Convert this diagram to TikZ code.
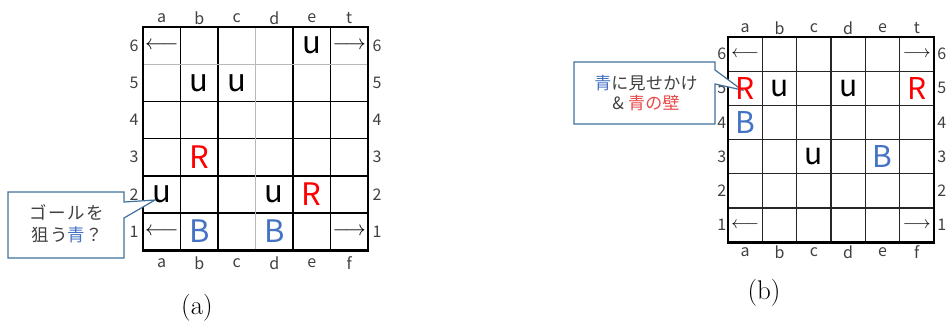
\documentclass[tikz,border=0pt]{standalone}
\usepackage{fontspec}
\newfontfamily\jp{Noto Sans CJK JP}
\newfontfamily\jpl[LetterSpace=9]{Noto Sans CJK JP}
\newfontfamily\jpm[LetterSpace=2]{Noto Sans CJK JP}
\usepackage{tikz}
\usetikzlibrary{calc}
\definecolor{bleu}{HTML}{4472C4}
\definecolor{rouge}{HTML}{FF0000}
\definecolor{rose}{HTML}{E84848}
\definecolor{cadre}{HTML}{41719C}
\definecolor{texte}{HTML}{404040}
\tikzset{
  piece/.style={font=\jp\fontsize{31}{31}\selectfont, inner sep=0pt},
  repere/.style={font=\jp\fontsize{16}{16}\selectfont, text=black!75, inner sep=0pt},
  fleche/.style={font=\fontsize{20}{20}\selectfont, inner sep=0pt},
  bulle/.style={draw=cadre, fill=white, line width=1.2pt, line join=miter},
  legende/.style={font=\jpl\fontsize{17.5}{22}\selectfont, text=texte, align=center, inner sep=0pt},
  titre/.style={font=\fontsize{27}{27}\selectfont, inner sep=0pt},
}

\begin{document}
\begin{tikzpicture}[x=1pt, y=-1pt, line cap=rect]
  \useasboundingbox (0,0) rectangle (947,325);
  % Plateau (a)
  \begin{scope}[shift={(143,27)}, x=37.5pt, y=-37.2pt]
    % Lignes intérieures
    \foreach \i in {1,2,4,5} \draw[line width=1.6pt] (\i,0) -- (\i,6);
    \foreach \j in {2,...,5} \draw[line width=1.6pt] (0,\j) -- (6,\j);
    \draw[gray!55, line width=0.8pt] (3,0) -- (3,6);
    \draw[gray!55, line width=0.8pt] (0,1) -- (6,1);
    % Bord
    \draw[line width=2.6pt] (0,0) rectangle (6,6);
    % Colonnes et rangées
    \foreach \c [count=\i] in {a,b,c,d,e,t}
      \node[repere] (a-h\i) at (\i-0.5,-0.24) {\c};
    \foreach \c [count=\i] in {a,b,c,d,e,f}
      \node[repere] (a-b\i) at (\i-0.5,6.34) {\c};
    \foreach \r in {1,...,6} {
      \node[repere] (a-g\r) at (-0.24,6.5-\r) {\r};
      \node[repere] (a-d\r) at (6.24,6.5-\r) {\r};
    }
    % Flèches de sortie
    \node[fleche] (a-a6) at (0.5,0.5) {$\longleftarrow$};
    \node[fleche] (a-a1) at (0.5,5.5) {$\longleftarrow$};
    \node[fleche] (a-f6) at (5.5,0.5) {$\longrightarrow$};
    \node[fleche] (a-f1) at (5.5,5.5) {$\longrightarrow$};
  \end{scope}
  % Bulle (a)
  \draw[bulle] (8,192) -- (124,192) -- (124,202) -- (155,200) -- (124,218)
    -- (124,258) -- (8,258) -- cycle;
  \node[legende] (note-a) at (67,224) {ゴールを\\狙う\textcolor{bleu}{青}？};
  \begin{scope}[shift={(143,27)}, x=37.5pt, y=-37.2pt]
    % Pièces (a)
    \node[piece] (a-e6) at (4.5,0.5) {u};
    \node[piece] (a-b5) at (1.5,1.5) {u};
    \node[piece] (a-c5) at (2.5,1.5) {u};
    \node[piece] (a-a2) at (0.5,4.5) {u};
    \node[piece] (a-d2) at (3.5,4.5) {u};
    \node[piece, text=rouge] (a-b3) at (1.5,3.5) {R};
    \node[piece, text=rouge] (a-e2) at (4.5,4.5) {R};
    \node[piece, text=bleu] (a-b1) at (1.5,5.5) {B};
    \node[piece, text=bleu] (a-d1) at (3.5,5.5) {B};
  \end{scope}
  \node[titre] (cap-a) at (197,308) {(a)};

  % Plateau (b)
  \begin{scope}[shift={(728,37)}, x=34.33pt, y=-34.2pt]
    \foreach \i in {1,...,5} \draw[line width=1.2pt, black!85] (\i,0) -- (\i,6);
    \foreach \j in {1,...,5} \draw[line width=1.2pt, black!85] (0,\j) -- (6,\j);
    \draw[line width=2.6pt] (0,0) rectangle (6,6);
    \foreach \c [count=\i] in {a,b,c,d,e,t}
      \node[repere] (b-h\i) at (\i-0.5,-0.26) {\c};
    \foreach \c [count=\i] in {a,b,c,d,e,f}
      \node[repere] (b-b\i) at (\i-0.5,6.29) {\c};
    \foreach \r in {1,...,6} {
      \node[repere] (b-g\r) at (-0.18,6.5-\r) {\r};
      \node[repere] (b-d\r) at (6.23,6.5-\r) {\r};
    }
    \node[fleche, font=\fontsize{17.5}{17.5}\selectfont] (b-a6) at (0.5,0.5) {$\longleftarrow$};
    \node[fleche, font=\fontsize{17.5}{17.5}\selectfont] (b-a1) at (0.5,5.5) {$\longleftarrow$};
    \node[fleche, font=\fontsize{17.5}{17.5}\selectfont] (b-f6) at (5.5,0.5) {$\longrightarrow$};
    \node[fleche, font=\fontsize{17.5}{17.5}\selectfont] (b-f1) at (5.5,5.5) {$\longrightarrow$};
  \end{scope}
  % Bulle (b)
  \draw[bulle] (574,62) -- (715,62) -- (715,70) -- (742,90) -- (715,84)
    -- (715,124) -- (574,124) -- cycle;
  \node[legende, font=\jpm\fontsize{17}{19.5}\selectfont] (note-b) at (646,93)
    {\textcolor{bleu}{青}に見せかけ\\\& \textcolor{rose}{青の壁}};
  \begin{scope}[shift={(728,37)}, x=34.33pt, y=-34.2pt]
    % Pièces (b)
    \node[piece, font=\jp\fontsize{30}{30}\selectfont, text=rouge] (b-a5) at (0.5,1.5) {R};
    \node[piece, font=\jp\fontsize{30}{30}\selectfont, text=rouge] (b-f5) at (5.5,1.5) {R};
    \node[piece, font=\jp\fontsize{30}{30}\selectfont] (b-b5) at (1.5,1.5) {u};
    \node[piece, font=\jp\fontsize{30}{30}\selectfont] (b-d5) at (3.5,1.5) {u};
    \node[piece, font=\jp\fontsize{30}{30}\selectfont] (b-c3) at (2.5,3.5) {u};
    \node[piece, font=\jp\fontsize{30}{30}\selectfont, text=bleu] (b-a4) at (0.5,2.5) {B};
    \node[piece, font=\jp\fontsize{30}{30}\selectfont, text=bleu] (b-e3) at (4.5,3.5) {B};
  \end{scope}
  \node[titre] (cap-b) at (764,293) {(b)};
\end{tikzpicture}
\end{document}
